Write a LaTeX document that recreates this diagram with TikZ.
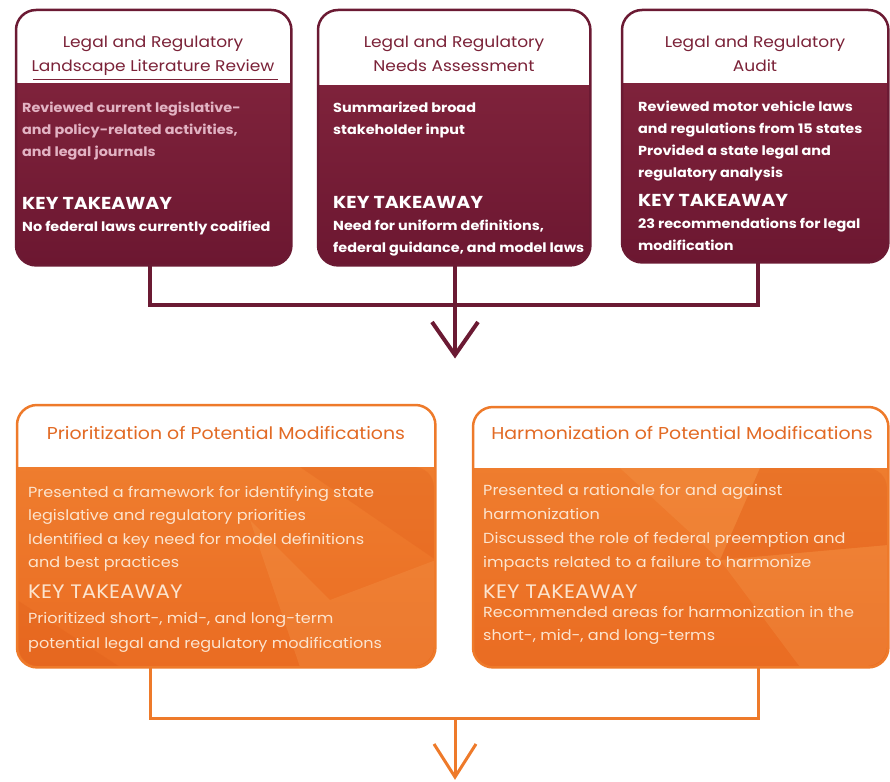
\documentclass[tikz,border=0pt]{standalone}
\usepackage{fontspec}
\setmainfont{Poppins}[FakeStretch=1.1]
\usetikzlibrary{calc}
\definecolor{mar}{HTML}{7A1F3B}
\definecolor{martop}{HTML}{86273F}
\definecolor{marbot}{HTML}{6C1731}
\definecolor{marline}{HTML}{6B1A33}
\definecolor{martxt}{HTML}{7B2238}
\definecolor{pinktxt}{HTML}{E2B3C3}
\definecolor{orgtop}{HTML}{F08232}
\definecolor{orgbot}{HTML}{EA6C22}
\definecolor{orgline}{HTML}{EE7A2A}
\definecolor{orgtxt}{HTML}{E26A24}
\definecolor{cream}{HTML}{FCE4CE}
\definecolor{orgdark}{HTML}{DE5A18}
\definecolor{orglight}{HTML}{F6A055}
\newcommand\fillbox[5]{%
  \begin{scope}
    \clip[rounded corners=20pt] (#1.south west) rectangle (#1.north east);
    \shade[top color=#3,bottom color=#4] (#1.south west) rectangle (#1.north east);
    \fill[white] (#1.north west) rectangle ($(#1.north east)+(0,#2)$);
  \end{scope}
  \draw[#5, line width=2.5pt, rounded corners=20pt] (#1.south west) rectangle (#1.north east);
}
\newcommand\txtlines[6]{%
  \foreach \t [count=\i] in {#6} {\node[#2, anchor=base west] (#1\i) at (#3, {#4+(\i-1)*#5}) {\t};}
}
\newcommand\ttllines[6]{%
  \foreach \t [count=\i] in {#6} {\node[#2, anchor=base] (#1\i) at (#3, {#4+(\i-1)*#5}) {\t};}
}
\tikzset{
  boxshape/.style={minimum width=#1, inner sep=0, anchor=north west},
  ttl/.style={font=\fontsize{15.5}{15.5}\selectfont, text=martxt, inner sep=0},
  tbody/.style={font=\bfseries\fontsize{13.1}{13.1}\selectfont, text=white, inner sep=0},
  tpink/.style={tbody, text=pinktxt},
  tkey/.style={font=\bfseries\fontsize{17.3}{17.3}\selectfont, text=white, inner sep=0},
  ottl/.style={font=\fontsize{17.2}{17.2}\selectfont, text=orgtxt, inner sep=0},
  obody/.style={font=\fontsize{14.6}{14.6}\selectfont, text=cream, inner sep=0},
  okey/.style={font=\fontsize{19.5}{19.5}\selectfont, text=cream, inner sep=0},
  topconn/.style={draw=marline, line width=4pt},
  botconn/.style={draw=orgline, line width=3pt},
  facet/.style={fill=#1, fill opacity=0.25},
}
\begin{document}
\begin{tikzpicture}[x=1pt,y=-1pt]
\useasboundingbox (0,0) rectangle (890,781);
% top boxes
\node[boxshape=275pt, minimum height=255pt] (b1) at (16,10) {};
\node[boxshape=272pt, minimum height=255pt] (b2) at (318,10) {};
\node[boxshape=266pt, minimum height=252pt] (b3) at (622,10) {};
\fillbox{b1}{73}{martop}{marbot}{marline}
\fillbox{b2}{75}{martop}{marbot}{marline}
\fillbox{b3}{73}{martop}{marbot}{marline}
\draw[martxt, line width=1pt] (33,80) -- (278,80);
% bottom boxes
\node[boxshape=418pt, minimum height=262pt] (b4) at (17,405) {};
\node[boxshape=415pt, minimum height=260pt] (b5) at (473,407) {};
\fillbox{b4}{62}{orgtop}{orgbot}{orgline}
\fillbox{b5}{61}{orgtop}{orgbot}{orgline}
% facets in orange boxes
\begin{scope}
  \clip[rounded corners=20pt] ($(b4.south west)+(1.5,-1.5)$) rectangle ($(b4.north east)+(-1.5,62)$);
  \fill[facet=orgdark] (300,467) -- (436,467) -- (436,560) -- cycle;
  \fill[facet=orglight] (250,520) -- (330,600) -- (436,560) -- (436,667) -- (300,667) -- cycle;
  \fill[facet=orgdark] (17,600) -- (120,667) -- (17,667) -- cycle;
\end{scope}
\begin{scope}
  \clip[rounded corners=20pt] ($(b5.south west)+(1.5,-1.5)$) rectangle ($(b5.north east)+(-1.5,61)$);
  \fill[facet=orglight] (620,468) -- (760,468) -- (720,560) -- cycle;
  \fill[facet=orgdark] (760,468) -- (888,468) -- (888,545) -- (720,560) -- cycle;
  \fill[facet=orglight] (720,560) -- (888,545) -- (888,667) -- (800,667) -- cycle;
\end{scope}
% titles
\ttllines{t1}{ttl}{153}{48}{24}{Legal and Regulatory,Landscape Literature Review}
\ttllines{t2}{ttl}{454}{48}{24}{Legal and Regulatory,Needs Assessment}
\ttllines{t3}{ttl}{755}{48}{24}{Legal and Regulatory,Audit}
\node[ottl, anchor=base] (t4) at (226,439) {Prioritization of Potential Modifications};
\node[ottl, anchor=base] (t5) at (682,439) {Harmonization of Potential Modifications};
% box 1 text
\txtlines{p1}{tpink}{22}{112}{22}{Reviewed current legislative-,{and policy-related activities,},and legal journals}
\node[tkey, anchor=base west] (k1) at (22,209) {KEY TAKEAWAY};
\txtlines{q1}{tbody}{22}{231}{22}{No federal laws currently codified}
% box 2 text
\txtlines{p2}{tbody}{333}{112}{22}{Summarized broad,stakeholder input}
\node[tkey, anchor=base west] (k2) at (333,208) {KEY TAKEAWAY};
\txtlines{q2}{tbody}{333}{230}{22}{{Need for uniform definitions,},{federal guidance, and model laws}}
% box 3 text
\txtlines{p3}{tbody}{638}{111}{22}{Reviewed motor vehicle laws,and regulations from 15 states,Provided a state legal and,regulatory analysis}
\node[tkey, anchor=base west] (k3) at (638,206) {KEY TAKEAWAY};
\txtlines{q3}{tbody}{638}{228}{22}{23 recommendations for legal,modification}
% box 4 text
\txtlines{p4}{obody}{28}{497}{23.5}{Presented a framework for identifying state,legislative and regulatory priorities,Identified a key need for model definitions,and best practices}
\node[okey, anchor=base west] (k4) at (28,598) {KEY TAKEAWAY};
\txtlines{q4}{obody}{28}{623}{25}{{Prioritized short-, mid-, and long-term},potential legal and regulatory modifications}
% box 5 text
\txtlines{p5}{obody}{483}{495}{24}{Presented a rationale for and against,harmonization,Discussed the role of federal preemption and,impacts related to a failure to harmonize}
\node[okey, anchor=base west] (k5) at (483,598) {KEY TAKEAWAY};
\txtlines{q5}{obody}{483}{617}{23}{Recommended areas for harmonization in the,{short-, mid-, and long-terms}}
% top connector
\coordinate (hubl) at (150,305);
\coordinate (hubr) at (758,305);
\coordinate (tip1) at (455,355);
\draw[topconn] (b1.south -| hubl) -- (hubl) -- (hubr) -- (b3.south -| hubr);
\draw[topconn] (b2.south -| tip1) -- (tip1);
\draw[topconn, line join=miter] ($(tip1)+(-23,-33)$) -- (tip1) -- ($(tip1)+(23,-33)$);
% bottom connector
\coordinate (lowl) at (150,718);
\coordinate (lowr) at (758,718);
\coordinate (lowc) at (455,718);
\coordinate (tip2) at (455,777);
\draw[botconn] (b4.south -| lowl) -- (lowl) -- (lowr) -- (b5.south -| lowr);
\draw[botconn] (lowc) -- (tip2);
\draw[botconn, line join=miter] ($(tip2)+(-21,-33)$) -- (tip2) -- ($(tip2)+(21,-33)$);
\end{tikzpicture}
\end{document}
